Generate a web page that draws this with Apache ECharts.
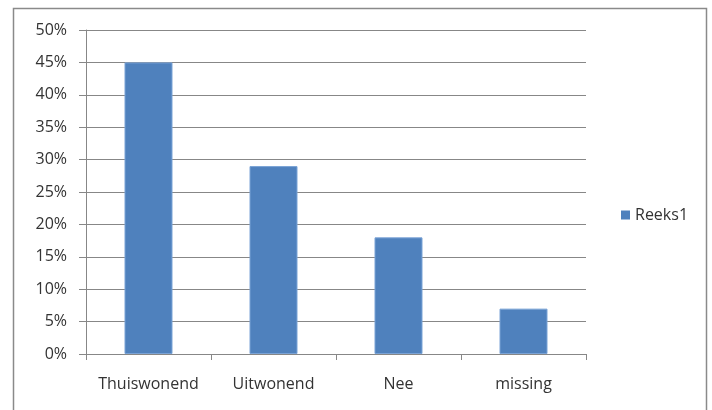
<!DOCTYPE html>
<html>
<head>
<meta charset="utf-8">
<script src="https://cdn.jsdelivr.net/npm/echarts@6/dist/echarts.min.js"></script>
<style>
  html, body { margin: 0; padding: 0; background: #fff; }
  #chart { width: 712px; height: 410px; }
</style>
</head>
<body>
<div id="chart"></div>
<script>
// Share of respondents per living situation
const categories = ['Thuiswonend', 'Uitwonend', 'Nee', 'missing'];
const seriesName = 'Reeks1';
const values = [0.45, 0.29, 0.18, 0.07];

const chart = echarts.init(document.getElementById('chart'));
const textColor = '#333333';
const lineColor = '#878787';
const fontFamily = '"Open Sans", "Liberation Sans", sans-serif';

chart.setOption({
  animation: false,
  textStyle: { fontFamily: fontFamily },
  graphic: [{
    type: 'rect',
    shape: { x: 13.5, y: 8.5, width: 693, height: 420 },
    style: { fill: 'none', stroke: '#8a8a8a', lineWidth: 1.5 },
    silent: true
  }],
  grid: { left: 86, top: 30, width: 500, height: 324, containLabel: false },
  legend: {
    data: [seriesName],
    left: 616, top: 202,
    itemWidth: 9, itemHeight: 9, itemGap: 8,
    icon: 'rect',
    itemStyle: { borderWidth: 0 },
    textStyle: { color: textColor, fontSize: 16, fontFamily: fontFamily }
  },
  xAxis: {
    type: 'category',
    data: categories,
    axisLine: { lineStyle: { color: lineColor, width: 1 } },
    axisTick: { show: true, length: 6, lineStyle: { color: lineColor } },
    axisLabel: {
      color: textColor, fontSize: 16, margin: 22, fontFamily: fontFamily,
      interval: 0, hideOverlap: false
    },
    splitLine: { show: false }
  },
  yAxis: {
    type: 'value',
    min: 0, max: 0.5, interval: 0.05,
    axisLine: { show: true, lineStyle: { color: lineColor, width: 1 } },
    axisTick: { show: true, length: 7, lineStyle: { color: lineColor } },
    axisLabel: {
      color: textColor, fontSize: 16, margin: 19, fontFamily: fontFamily,
      formatter: v => Math.round(v * 100) + '%'
    },
    splitLine: { show: true, lineStyle: { color: lineColor, width: 1 } }
  },
  series: [{
    name: seriesName,
    type: 'bar',
    data: values,
    barWidth: 48,
    itemStyle: { color: '#4f81bd', borderColor: '#7aa3d6', borderWidth: 1 }
  }]
});
</script>
</body>
</html>
